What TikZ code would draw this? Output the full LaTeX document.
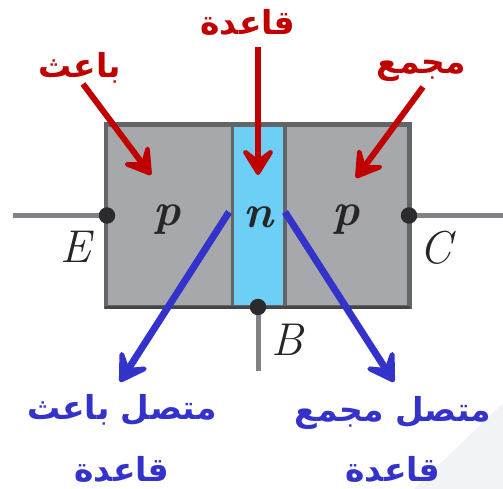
\documentclass[tikz,border=0pt]{standalone}
\usepackage{fontspec}
\usetikzlibrary{arrows.meta}
\TeXXeTstate=1
\newfontfamily\arabicfont[Script=Arabic]{DejaVu Sans}
\definecolor{regiongrey}{HTML}{A7A8AB}
\definecolor{baseblue}{HTML}{6DCFF6}
\definecolor{edgegrey}{HTML}{636466}
\definecolor{leadgrey}{HTML}{808285}
\definecolor{dotblack}{HTML}{2B2B2D}
\definecolor{labred}{HTML}{C00000}
\definecolor{labblue}{HTML}{3333CC}
\definecolor{cornerfill}{HTML}{F1F3F6}
\tikzset{
  x=1pt,y=-1pt,
  region/.style={fill=regiongrey},
  baseregion/.style={draw=edgegrey,line width=3.5pt,fill=baseblue},
  frame/.style={draw=edgegrey,line width=4.5pt},
  lead/.style={draw=leadgrey,line width=5pt},
  terminal/.style={circle,fill=dotblack,inner sep=0pt,minimum size=16.5pt},
  redarrow/.style={draw=labred,line width=6pt,-{Stealth[length=34pt,width=42pt,inset=16pt,line join=round]}},
  bluearrow/.style={draw=labblue,line width=7pt,-{Stealth[length=36pt,width=44pt,inset=17pt,line join=round]}},
  redlabel/.style={text=labred,font=\arabicfont\bfseries\fontsize{33}{36}\selectfont,inner sep=0pt},
  bluelabel/.style={text=labblue,font=\arabicfont\bfseries\fontsize{33}{36}\selectfont,inner sep=0pt},
  letter/.style={font=\fontsize{46}{50}\selectfont\itshape,text=black!85,inner sep=0pt},
  boldletter/.style={font=\fontsize{46}{50}\selectfont\bfseries\itshape,text=black!85,inner sep=0pt}
}
\begin{document}
\begin{tikzpicture}
\useasboundingbox (0,0) rectangle (503,489);
\fill[cornerfill] (503,403) -- (503,489) -- (414,489) -- cycle;
\coordinate (ew) at (13,215.5);
\coordinate (cw) at (503,215.5);
\coordinate (bw) at (258,371);
\path[region] (106,124.5) rectangle (409.5,307);
\path[baseregion] (232.5,124.5) rectangle (285,307);
\path[frame] (106,124.5) rectangle (409.5,307);
\draw[draw=edgegrey!70!black,line width=3pt] (105,307) -- (410,307);
\node[terminal] (E) at (107,215.5) {};
\node[terminal] (C) at (409,215.5) {};
\node[terminal] (B) at (258,307) {};
\draw[lead] (ew) -- (E);
\draw[lead] (C) -- (cw);
\draw[lead] (B) -- (bw);
\node[boldletter] (pl) at (167,220) {p};
\node[boldletter] (nm) at (258,217) {n};
\node[boldletter] (pr) at (346,220) {p};
\node[letter] (le) at (76,247) {E};
\node[letter] (lc) at (436,248) {C};
\node[letter] (lb) at (287,340) {B};
\node[redlabel] (emitter) at (80,68) {\beginR باعث\endR};
\node[redlabel] (base) at (248,22) {\beginR قاعدة\endR};
\node[redlabel] (collector) at (421,71) {\beginR مجمع\endR};
\coordinate (et) at (151,175);
\coordinate (bt) at (258,175);
\coordinate (ct) at (356,178);
\draw[redarrow] (83,84) -- (et);
\draw[redarrow] (258,47) -- (bt);
\draw[redarrow] (423,87) -- (ct);
\coordinate (jl) at (229,212);
\coordinate (jr) at (285,212);
\node[bluelabel] (jel) at (122,410) {\beginR متصل باعث\endR};
\node[bluelabel] (jeb) at (122,469) {\beginR قاعدة\endR};
\node[bluelabel] (jcl) at (393,413) {\beginR متصل مجمع\endR};
\node[bluelabel] (jcb) at (393,469) {\beginR قاعدة\endR};
\draw[bluearrow] (jl) -- (120,382);
\draw[bluearrow] (jr) -- (394,382);
\end{tikzpicture}
\end{document}
